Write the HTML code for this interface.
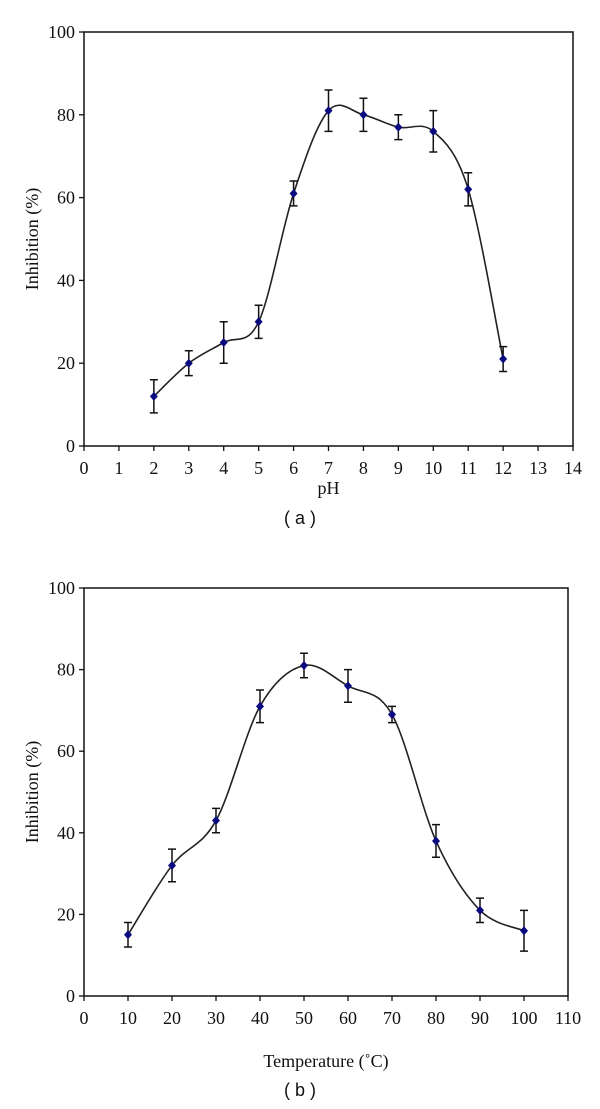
<!DOCTYPE html>
<html><head><meta charset="utf-8"><style>
html,body{margin:0;padding:0;background:#fff;}
svg{display:block;}
.tk{font-family:"Liberation Serif",serif;font-size:18px;fill:#111;}
.cap{font-family:"Liberation Sans",sans-serif;font-size:18px;fill:#111;}
</style></head><body>
<svg id="svg" width="600" height="1109" xmlns="http://www.w3.org/2000/svg"></svg>
<script>
const phCats=[2,3,4,5,6,7,8,9,10,11,12];
const phVals=[12,20,25,30,61,81,80,77,76,62,21];
const phErr=[4,3,5,4,3,5,4,3,5,4,3];
const phXTicks=[0,1,2,3,4,5,6,7,8,9,10,11,12,13,14];
const tCats=[10,20,30,40,50,60,70,80,90,100];
const tVals=[15,32,43,71,81,76,69,38,21,16];
const tErr=[3,4,3,4,3,4,2,4,3,5];
const tXTicks=[0,10,20,30,40,50,60,70,80,90,100,110];
const yTicks=[0,20,40,60,80,100];

const NS="http://www.w3.org/2000/svg";
const svg=document.getElementById('svg');
function mk(tag,attrs,parent){const e=document.createElementNS(NS,tag);for(const k in attrs)e.setAttribute(k,attrs[k]);(parent||svg).appendChild(e);return e;}

function chart(id,cfg){
  const g=mk('g',{});
  
  
  const L=84,R=cfg.right,T=cfg.top,B=cfg.bottom;
  const xs=v=>L+(v-cfg.xmin)/(cfg.xmax-cfg.xmin)*(R-L);
  const ys=v=>B-v/100*(B-T);
  const frame=mk('rect',{x:L,y:T,width:R-L,height:B-T,fill:'none',stroke:'#111','stroke-width':1.5},g);
  
  
  yTicks.forEach(v=>{
    mk('line',{x1:L-5,x2:L,y1:ys(v),y2:ys(v),stroke:'#111','stroke-width':1.3},g);
    const t=mk('text',{x:L-9,y:ys(v)+6,'text-anchor':'end',class:'tk'},g);t.textContent=v;
    
    
  });
  cfg.xticks.forEach(v=>{
    mk('line',{x1:xs(v),x2:xs(v),y1:B,y2:B+5,stroke:'#111','stroke-width':1.3},g);
    const t=mk('text',{x:xs(v),y:B+28,'text-anchor':'middle',class:'tk'},g);t.textContent=v;
    
    
  });
  const yt=mk('text',{x:0,y:0,'text-anchor':'middle',class:'tk',transform:`translate(38,${(T+B)/2}) rotate(-90)`},g);
  yt.textContent='Inhibition (%)';
  
  
  const xt=mk('text',{x:(L+R)/2,y:B+cfg.xtitleDy,'text-anchor':'middle',class:'tk'},g);
  xt.textContent=cfg.xtitle;
  
  
  const cp=mk('text',{x:300,y:cfg.capY,'text-anchor':'middle',class:'cap'},g);
  cp.textContent=cfg.cap;
  
  
  const P=cfg.cats.map((c,i)=>[xs(c),ys(cfg.vals[i])]);
  let d=`M${P[0][0]},${P[0][1]}`;
  for(let i=0;i<P.length-1;i++){
    const p0=P[i-1]||P[i],p1=P[i],p2=P[i+1],p3=P[i+2]||P[i+1];
    const c1=[p1[0]+(p2[0]-p0[0])/6,p1[1]+(p2[1]-p0[1])/6];
    const c2=[p2[0]-(p3[0]-p1[0])/6,p2[1]-(p3[1]-p1[1])/6];
    d+=` C${c1[0]},${c1[1]} ${c2[0]},${c2[1]} ${p2[0]},${p2[1]}`;
  }
  const line=mk('path',{d:d,fill:'none',stroke:'#222','stroke-width':1.6},g);
  
  
  cfg.cats.forEach((c,i)=>{
    const x=xs(c),y=ys(cfg.vals[i]),e=cfg.err[i];
    const eb=mk('path',{d:`M${x},${ys(cfg.vals[i]+e)}V${ys(cfg.vals[i]-e)}M${x-4},${ys(cfg.vals[i]+e)}H${x+4}M${x-4},${ys(cfg.vals[i]-e)}H${x+4}`,stroke:'#111','stroke-width':1.5,fill:'none'},g);
    
    
    const m=mk('path',{d:`M${x},${y-4.5}L${x+4},${y}L${x},${y+4.5}L${x-4},${y}Z`,fill:'#0a0a80'},g);
    
    
  });
}
chart('chart-ph',{top:32,bottom:446,right:573,xmin:0,xmax:14,xticks:phXTicks,cats:phCats,vals:phVals,err:phErr,xtitle:'pH',xtitleDy:48,cap:'( a )',capY:524});
chart('chart-temperature',{top:588,bottom:996,right:568,xmin:0,xmax:110,xticks:tXTicks,cats:tCats,vals:tVals,err:tErr,xtitle:'Temperature (\u02DAC)',xtitleDy:71,cap:'( b )',capY:1096});
</script>
</body></html>
